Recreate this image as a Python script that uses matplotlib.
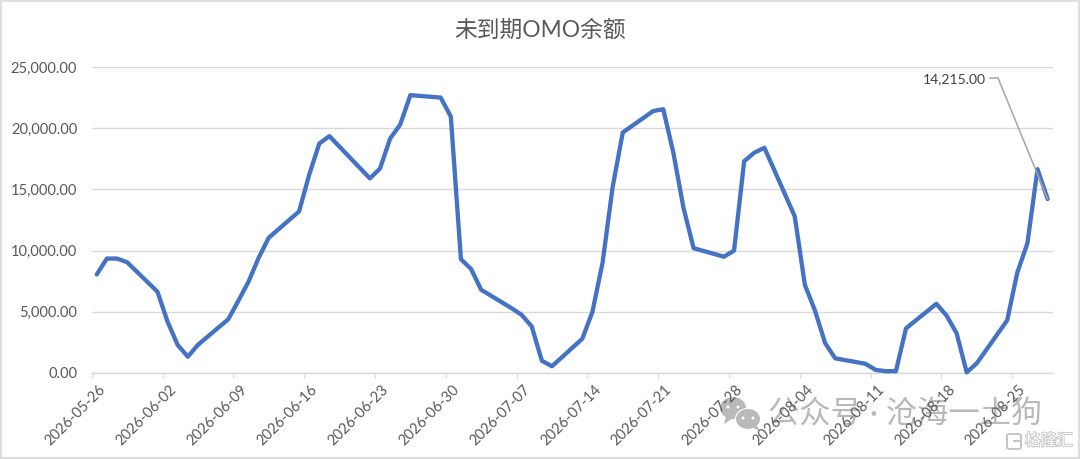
import matplotlib
matplotlib.use("Agg")
import matplotlib.pyplot as plt
from matplotlib.patches import Ellipse, Rectangle, FancyBboxPatch, Polygon
from matplotlib.transforms import ScaledTranslation
import matplotlib.patheffects as pe
import pandas as pd

FONT = ['Lato', 'Noto Sans CJK SC', 'DejaVu Sans']
plt.rcParams['font.family'] = FONT

title = '未到期OMO余额'
dates = ['2026-05-26','2026-05-27','2026-05-28','2026-05-29',
         '2026-06-01','2026-06-02','2026-06-03','2026-06-04','2026-06-05',
         '2026-06-08','2026-06-09','2026-06-10','2026-06-11','2026-06-12',
         '2026-06-15','2026-06-16','2026-06-17','2026-06-18',
         '2026-06-22','2026-06-23','2026-06-24','2026-06-25','2026-06-26',
         '2026-06-29','2026-06-30','2026-07-01','2026-07-02','2026-07-03',
         '2026-07-06','2026-07-07','2026-07-08','2026-07-09','2026-07-10',
         '2026-07-13','2026-07-14','2026-07-15','2026-07-16','2026-07-17',
         '2026-07-20','2026-07-21','2026-07-22','2026-07-23','2026-07-24',
         '2026-07-27','2026-07-28','2026-07-29','2026-07-30','2026-07-31',
         '2026-08-03','2026-08-04','2026-08-05','2026-08-06','2026-08-07',
         '2026-08-10','2026-08-11','2026-08-12','2026-08-13','2026-08-14',
         '2026-08-17','2026-08-18','2026-08-19','2026-08-20','2026-08-21',
         '2026-08-24','2026-08-25','2026-08-26','2026-08-27','2026-08-28']
values = [8050,9350,9350,9050,
          6640,4190,2290,1330,2300,
          4390,5900,7460,9400,11050,
          13200,16200,18750,19350,
          15900,16700,19150,20300,22700,
          22500,20950,9300,8500,6800,
          5300,4750,3800,1000,550,
          2800,5000,9000,15200,19650,
          21400,21550,18000,13500,10200,
          9500,10000,17300,18000,18400,
          12800,7200,5100,2450,1200,
          750,250,150,150,3650,
          5650,4700,3250,50,800,
          4300,8200,10600,16650,14215]
y_ticks = [0,5000,10000,15000,20000,25000]
tick_dates = ['2026-05-26','2026-06-02','2026-06-09','2026-06-16','2026-06-23','2026-06-30',
              '2026-07-07','2026-07-14','2026-07-21','2026-07-28','2026-08-04','2026-08-11',
              '2026-08-18','2026-08-25']
last_label = '14,215.00'

W, H = 1080, 459
fig = plt.figure(figsize=(W/100, H/100), dpi=100, facecolor='white')
L, R, T, B = 91.7, 1052.7, 67.0, 373.0
ax = fig.add_axes([L/W, 1-B/H, (R-L)/W, (B-T)/H])
ax.patch.set_visible(False)

start = pd.Timestamp(dates[0])
def pos(d, off=0.0):
    return (pd.Timestamp(d) - start).days + off

xs = [pos(d, 0.5) for d in dates]
ax.plot(xs, values, color='#4472C4', lw=3.1, solid_joinstyle='round', solid_capstyle='round', zorder=3, clip_on=False)
ax.set_xlim(0, 95)
ax.set_ylim(0, 25000)
ax.set_yticks(y_ticks)
ax.set_yticklabels([f'{v:,.2f}' for v in y_ticks])
ax.set_xticks([pos(d) for d in tick_dates])
ax.set_xticklabels(tick_dates, rotation=45, ha='right', va='top', rotation_mode='anchor')
ax.grid(axis='y', color='#D9D9D9', lw=1.0)
ax.set_axisbelow(True)
for s in ('top','right','left'):
    ax.spines[s].set_visible(False)
ax.spines['bottom'].set_color('#D9D9D9')
ax.spines['bottom'].set_linewidth(1.0)
ax.tick_params(axis='y', length=0, pad=10.5, labelsize=10.5, labelcolor='#595959')
ax.tick_params(axis='x', length=3.5, width=0.8, color='#D9D9D9', pad=4, labelsize=10.5, labelcolor='#595959')
shift = ScaledTranslation(6.5/100, 0.5/100, fig.dpi_scale_trans)
for lab in ax.get_xticklabels():
    lab.set_transform(lab.get_transform() + shift)

fig.text(540/W, 1-30/H, title, ha='center', va='center', fontsize=16.4, color='#595959')

# data label with leader line
fig.text(985.5/W, 1-79/H, last_label, ha='right', va='center', fontsize=10, color='#404040')
ax.annotate('', xy=(xs[-1], values[-1]), xycoords='data',
            xytext=(998/W, 1-78/H), textcoords='figure fraction',
            arrowprops=dict(arrowstyle='-', color='#A6A6A6', lw=1.1, shrinkA=0, shrinkB=0), zorder=4)
fig.add_artist(plt.Line2D([990/W, 998/W], [1-78/H, 1-78/H], color='#A6A6A6', lw=1.1))

# watermark (beneath the axes content)
wm = '#B9B9B9'
tf = fig.transFigure
for cx, cy, w, h in [(733, 408, 27, 23), (748, 419, 25, 21)]:
    fig.add_artist(Ellipse((cx/W, 1-cy/H), w/W, h/H, transform=tf, fc=wm, ec='white', lw=0.8, zorder=-3))
    for dx in (-5, 5):
        fig.add_artist(Ellipse(((cx+dx)/W, 1-(cy-1)/H), 3/W, 3/H, transform=tf, fc='white', ec='none', zorder=-2))
fig.add_artist(Polygon([(726/W, 1-416/H), (733/W, 1-418/H), (724/W, 1-424/H)], transform=tf, fc=wm, ec='none', zorder=-3))
fig.add_artist(Polygon([(751/W, 1-427/H), (757/W, 1-426/H), (760/W, 1-431/H)], transform=tf, fc=wm, ec='none', zorder=-3))
fig.text(768/W, 1-414/H, '公众号 · 沧海一土狗', ha='left', va='center', fontsize=22.5, color=wm, zorder=-2)

logo = '#C4C4C4'
fig.text(1073/W, 1-441/H, '格隆汇', ha='right', va='center', fontsize=11.5, color='white', zorder=6,
         path_effects=[pe.withStroke(linewidth=1.3, foreground=logo)])
fig.add_artist(FancyBboxPatch((1007/W, 1-449/H), 14/W, 15/H, boxstyle='round,pad=0,rounding_size=0.003',
                              transform=tf, fc='white', ec=logo, lw=1.4, zorder=6))
fig.add_artist(plt.Line2D([1014/W, 1021/W, 1021/W], [1-441/H, 1-441/H, 1-446/H], color=logo, lw=1.4, zorder=7))

# chart frame
fig.add_artist(Rectangle((1/W, 1/H), (W-2)/W, (H-2)/H, transform=tf, fc='none', ec='#DEDEDE', lw=1.45, zorder=7))

fig.savefig('out.png', dpi=100)
